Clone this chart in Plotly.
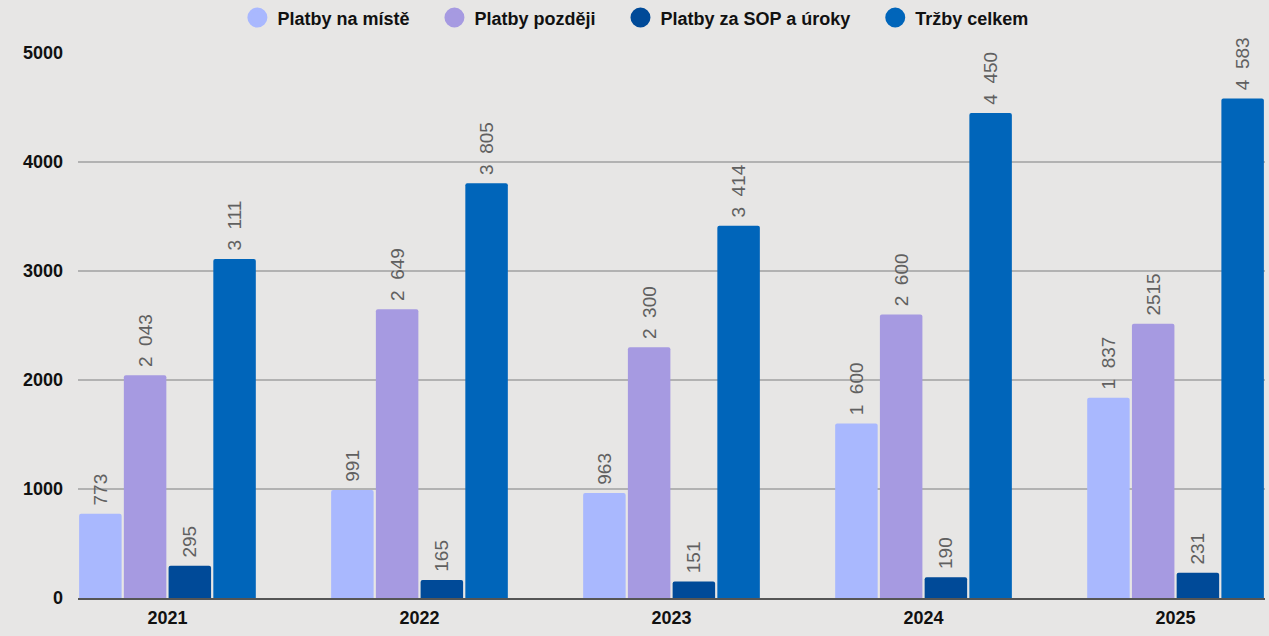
import plotly.graph_objects as go

years = ["2021", "2022", "2023", "2024", "2025"]
series_names = ["Platby na místě", "Platby později", "Platby za SOP a úroky", "Tržby celkem"]
platby_na_miste = [773, 991, 963, 1600, 1837]
platby_pozdeji = [2043, 2649, 2300, 2600, 2515]
platby_sop = [295, 165, 151, 190, 231]
trzby_celkem = [3111, 3805, 3414, 4450, 4583]
labels_na_miste = ["773", "991", "963", "1 600", "1 837"]
labels_pozdeji = ["2 043", "2 649", "2 300", "2 600", "2515"]
labels_sop = ["295", "165", "151", "190", "231"]
labels_trzby = ["3 111", "3 805", "3 414", "4 450", "4 583"]
y_ticks = [0, 1000, 2000, 3000, 4000, 5000]

colors = ["#A9B8FE", "#A69AE1", "#004A98", "#0065BA"]
values = [platby_na_miste, platby_pozdeji, platby_sop, trzby_celkem]
labels = [labels_na_miste, labels_pozdeji, labels_sop, labels_trzby]

fig = go.Figure()
for name, vals, labs, col in zip(series_names, values, labels, colors):
    shown = [l.replace(" ", "\u00a0\u00a0") for l in labs]
    fig.add_trace(go.Bar(
        x=years, y=vals, name=name, text=shown,
        texttemplate="\u00a0%{text}",
        textposition="outside", textangle=-90, constraintext="none",
        textfont=dict(family="Liberation Sans, Arial", size=19, color="#606060"),
        marker=dict(color=col, line=dict(width=0), cornerradius=2),
        cliponaxis=False, showlegend=False,
    ))
pad = "\u00a0" * 4
for name, col in zip(series_names, colors):
    fig.add_trace(go.Scatter(
        x=[None], y=[None], mode="markers", name=name + pad,
        marker=dict(symbol="circle", size=16, color=col, line=dict(width=4, color=col)),
        showlegend=True,
    ))

fig.update_layout(
    width=1269, height=636,
    margin=dict(l=78, r=4, t=53, b=38, autoexpand=False),
    paper_bgcolor="#E7E6E5", plot_bgcolor="#E7E6E5",
    barmode="group", bargap=0.29, bargroupgap=0.05,
    font=dict(family="Liberation Sans, Arial", color="#111111"),
    legend=dict(
        orientation="h", x=0.478, xanchor="center",
        yref="container", y=0.972, yanchor="middle",
        font=dict(size=18, color="#111111", family="Liberation Sans, Arial", weight="bold"),
        itemsizing="trace", bgcolor="rgba(0,0,0,0)",
    ),
    xaxis=dict(
        type="category", range=[-0.355, 4.355],
        showgrid=False, showline=True, linecolor="#555555", linewidth=2,
        tickfont=dict(size=18, color="#111111", weight="bold"),
        ticks="", ticklabelstandoff=2,
    ),
    yaxis=dict(
        range=[0, 5000], tickvals=y_ticks,
        showgrid=True, gridcolor="#B2B2B2", gridwidth=1.5,
        zeroline=False, showline=False,
        tickfont=dict(size=18, color="#111111", weight="bold"),
        ticks="", ticklabelstandoff=14,
    ),
)

fig.write_html(
    "out.html",
    config={"displayModeBar": False},
    post_script="document.body.style.margin='0';document.body.style.overflow='hidden';",
)
